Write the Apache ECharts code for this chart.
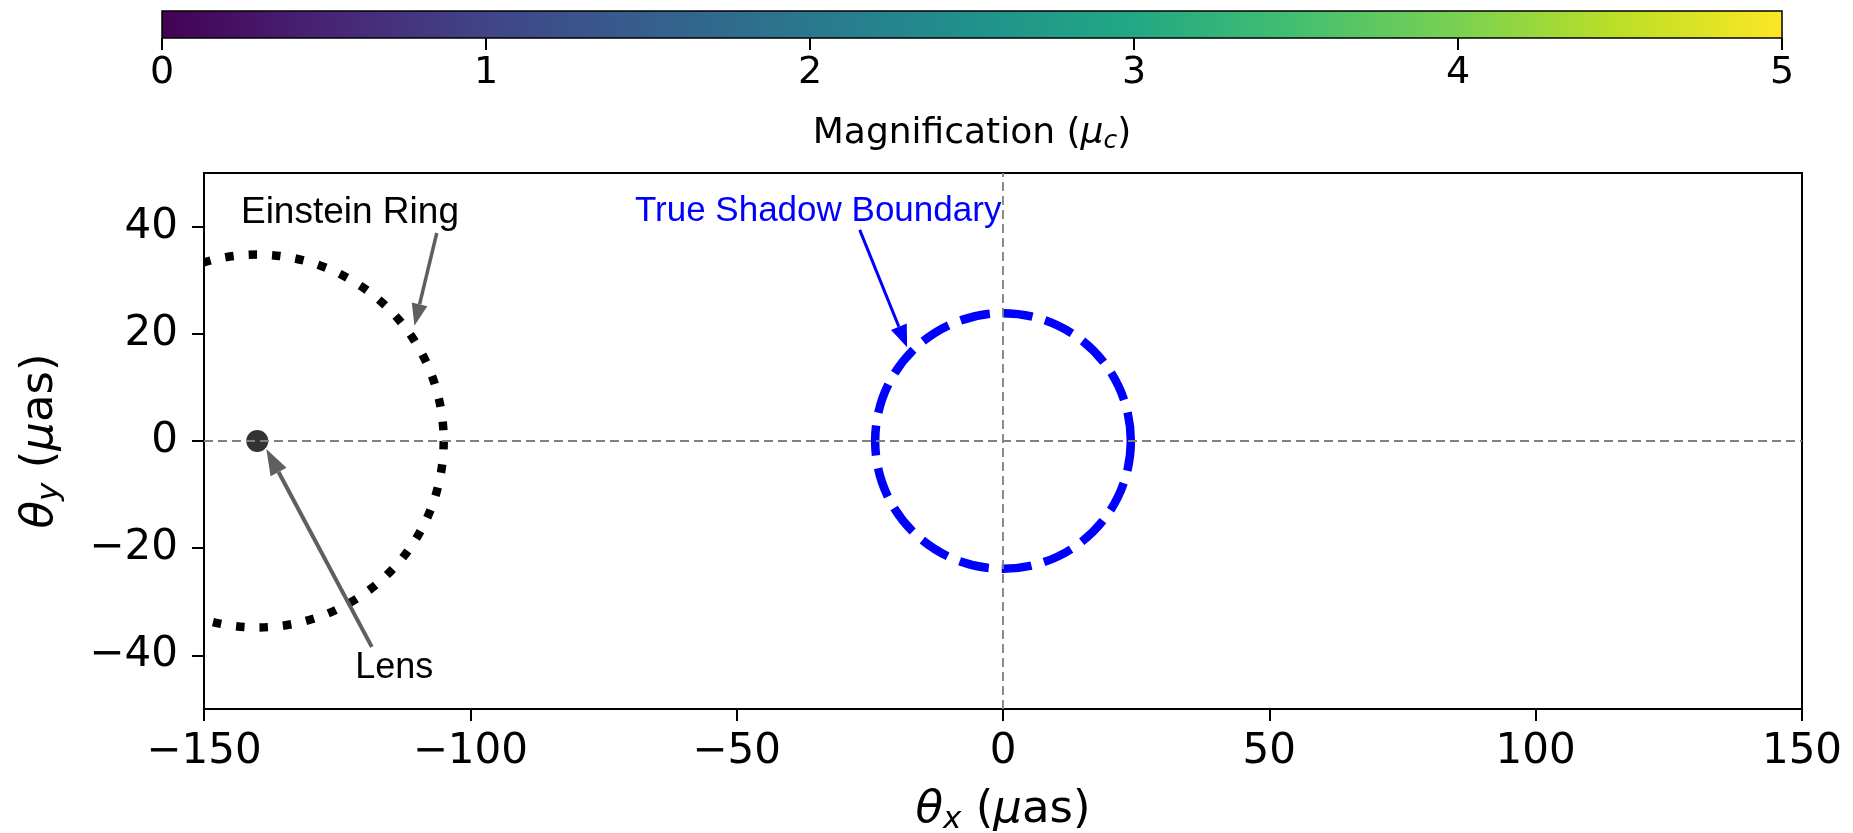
<!DOCTYPE html>
<html>
<head>
<meta charset="utf-8">
<title>Magnification map</title>
<script src="https://cdn.jsdelivr.net/npm/echarts@6/dist/echarts.min.js"></script>
<style>
  html, body { margin: 0; padding: 0; background: #fff; }
  #chart { width: 1853px; height: 833px; }
</style>
</head>
<body>
<div id="chart"></div>
<script>
// ── Data ────────────────────────────────────────────────────────────────────
const yTicks = [-40, -20, 0, 20, 40];
const cbarTicks = [0, 1, 2, 3, 4, 5];
const cbarRange = [[0, 5]];

// circles: [centerX, centerY, radius] in µas
const einsteinRing = [[-140, 0, 35]];
const shadowBoundary = [[0, 0, 24]];
const lensPoint = [[-140, 0]];

// annotations: [tipX, tipY, tailX, tailY, textX, textY]
const annoLabels = ['Einstein Ring', 'True Shadow Boundary', 'Lens'];
const annoPoints = [
  [-110.5, 21.5, -106.3, 38.8, -122.6, 42.6],
  [-18.0, 17.5, -26.9, 39.4, -34.7, 42.8],
  [-138.3, -1.5, -118.5, -38.4, -114.3, -42.4],
];

const viridis = ['#440154', '#482475', '#414487', '#355f8d', '#2a788e', '#21918c',
  '#22a884', '#44bf70', '#7ad151', '#bddf26', '#fde725'];

// ── Styles ──────────────────────────────────────────────────────────────────
const SANS = '"DejaVu Sans", sans-serif';
const ARIAL = '"Liberation Sans", Arial, sans-serif';
const annoStyle = [
  { color: '#000', arrow: '#5f5f5f', width: 3.5, headLen: 22, headW: 16, font: 37 },
  { color: '#0000ff', arrow: '#0000ff', width: 3, headLen: 22, headW: 17, font: 35 },
  { color: '#000', arrow: '#5f5f5f', width: 4, headLen: 26, headW: 18, font: 36 },
];

const minus = v => (v < 0 ? '\u2212' + Math.abs(v) : String(v));

function circleItem(stroke, width, dash) {
  return function (params, api) {
    const c = api.coord([api.value(0), api.value(1)]);
    const r = api.size([api.value(2), 0])[0];
    return {
      type: 'circle',
      shape: { cx: c[0], cy: c[1], r: r },
      style: { fill: 'none', stroke: stroke, lineWidth: width, lineDash: dash },
    };
  };
}

function annoItem(params, api) {
  const i = params.dataIndex;
  const s = annoStyle[i];
  const tip = api.coord([api.value(0), api.value(1)]);
  const tail = api.coord([api.value(2), api.value(3)]);
  const txt = api.coord([api.value(4), api.value(5)]);
  const dx = tip[0] - tail[0], dy = tip[1] - tail[1];
  const len = Math.hypot(dx, dy);
  const ux = dx / len, uy = dy / len;
  const bx = tip[0] - ux * s.headLen, by = tip[1] - uy * s.headLen;
  const px = -uy * s.headW / 2, py = ux * s.headW / 2;
  return {
    type: 'group',
    children: [
      { type: 'line', shape: { x1: tail[0], y1: tail[1], x2: bx, y2: by },
        style: { stroke: s.arrow, lineWidth: s.width } },
      { type: 'polygon', shape: { points: [tip, [bx + px, by + py], [bx - px, by - py]] },
        style: { fill: s.arrow } },
      { type: 'text', style: { text: annoLabels[i], x: txt[0], y: txt[1], align: 'center',
        verticalAlign: 'middle', fontSize: s.font, fontFamily: ARIAL, fill: s.color } },
    ],
  };
}

function cbarItem(params, api) {
  const p0 = api.coord([api.value(0), 1]);
  const p1 = api.coord([api.value(1), 0]);
  const stops = viridis.map((c, k) => ({ offset: k / (viridis.length - 1), color: c }));
  return {
    type: 'rect',
    shape: { x: p0[0], y: p0[1], width: p1[0] - p0[0], height: p1[1] - p0[1] },
    style: { fill: new echarts.graphic.LinearGradient(0, 0, 1, 0, stops), stroke: '#000', lineWidth: 1.5 },
  };
}

const nameRich = {
  it: { fontStyle: 'italic', fontSize: 45, fontFamily: SANS, color: '#000', lineHeight: 50 },
  sub: { fontStyle: 'italic', fontSize: 31, fontFamily: SANS, color: '#000', verticalAlign: 'bottom', lineHeight: 20 },
  n: { fontSize: 45, fontFamily: SANS, color: '#000', lineHeight: 50 },
};

const chart = echarts.init(document.getElementById('chart'), null, { renderer: 'canvas' });

chart.setOption({
  backgroundColor: '#fff',
  animation: false,
  grid: [
    { left: 204, top: 173, width: 1598, height: 536, show: true, borderColor: '#000', borderWidth: 2,
      containLabel: false, outerBoundsMode: 'none' },
    { left: 162, top: 11, width: 1620, height: 27, containLabel: false, outerBoundsMode: 'none' },
  ],
  xAxis: [
    {
      type: 'value', gridIndex: 0, min: -150, max: 150, interval: 50,
      axisLine: { show: true, onZero: false, lineStyle: { color: '#000', width: 2 } },
      axisTick: { show: true, length: 12, lineStyle: { color: '#000', width: 2 } },
      axisLabel: { color: '#000', fontSize: 42, fontFamily: SANS, margin: 22, formatter: minus },
      splitLine: { show: false },
      name: '{it|θ}{sub|x}{n| (}{it|μ}{n|as)}', nameLocation: 'middle', nameGap: 76,
      nameTextStyle: { rich: nameRich },
    },
    {
      type: 'value', gridIndex: 1, min: 0, max: 5, interval: 1,
      axisLine: { show: false, onZero: false },
      axisTick: { show: true, length: 12, lineStyle: { color: '#000', width: 2 } },
      axisLabel: { color: '#000', fontSize: 38, fontFamily: SANS, margin: 16,
        customValues: cbarTicks },
      splitLine: { show: false },
      name: 'Magnification ({it|μ}{sub|c})', nameLocation: 'middle', nameGap: 76,
      nameTextStyle: { color: '#000', fontSize: 36, fontFamily: SANS, lineHeight: 40,
        rich: {
          it: { fontStyle: 'italic', fontSize: 36, fontFamily: SANS, color: '#000', lineHeight: 40 },
          sub: { fontStyle: 'italic', fontSize: 25, fontFamily: SANS, color: '#000', verticalAlign: 'bottom', lineHeight: 16 },
        } },
    },
  ],
  yAxis: [
    {
      type: 'value', gridIndex: 0, min: -50, max: 50,
      axisLine: { show: true, onZero: false, lineStyle: { color: '#000', width: 2 } },
      axisTick: { show: true, length: 12, lineStyle: { color: '#000', width: 2 }, customValues: yTicks },
      axisLabel: { color: '#000', fontSize: 42, fontFamily: SANS, margin: 26, formatter: minus,
        customValues: yTicks },
      splitLine: { show: false },
      name: '{it|θ}{sub|y}{n| (}{it|μ}{n|as)}', nameLocation: 'middle', nameGap: 139,
      nameTextStyle: { rich: nameRich },
    },
    { type: 'value', gridIndex: 1, min: 0, max: 1, show: false },
  ],
  series: [
    {
      type: 'custom', name: 'colorbar', xAxisIndex: 1, yAxisIndex: 1,
      data: cbarRange, renderItem: cbarItem, silent: true,
    },
    {
      type: 'custom', name: 'Einstein Ring', xAxisIndex: 0, yAxisIndex: 0, clip: true, z: 3,
      data: einsteinRing, renderItem: circleItem('#000', 8.5, [8.5, 15]), silent: true,
    },
    {
      type: 'custom', name: 'True Shadow Boundary', xAxisIndex: 0, yAxisIndex: 0, clip: true, z: 3,
      data: shadowBoundary, renderItem: circleItem('#0000ff', 8.5, [30, 13]), silent: true,
    },
    {
      type: 'scatter', name: 'Lens', xAxisIndex: 0, yAxisIndex: 0, z: 4,
      data: lensPoint, symbol: 'circle', symbolSize: 22, itemStyle: { color: '#000' }, silent: true,
      markLine: {
        symbol: 'none', silent: true, label: { show: false }, z: 5,
        lineStyle: { type: [9, 5], color: '#808080', width: 1.8 },
        data: [{ xAxis: 0 }, { yAxis: 0 }],
      },
    },
    {
      type: 'custom', name: 'annotations', xAxisIndex: 0, yAxisIndex: 0, z: 6,
      data: annoPoints, renderItem: annoItem, silent: true,
      encode: { x: [0, 2, 4], y: [1, 3, 5] },
    },
  ],
});
</script>
</body>
</html>
